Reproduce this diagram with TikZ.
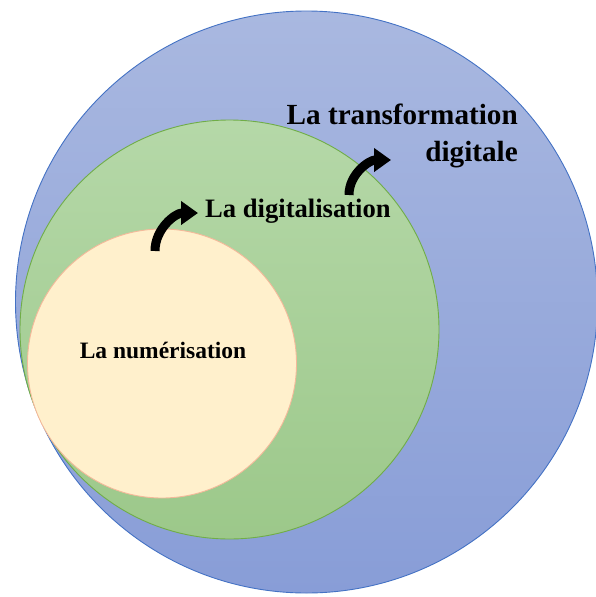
\documentclass[tikz,border=0pt]{standalone}
\usepackage{fontspec}
\setmainfont{Liberation Serif}
\usetikzlibrary{arrows.meta}

\definecolor{blueedge}{HTML}{4472C4}
\definecolor{bluetop}{HTML}{A9B8E0}
\definecolor{bluebot}{HTML}{889DD7}
\definecolor{greenedge}{HTML}{70AD47}
\definecolor{greentop}{HTML}{B5D8A8}
\definecolor{greenbot}{HTML}{9CC88A}
\definecolor{yellowfill}{HTML}{FFF0CC}
\definecolor{yellowedge}{HTML}{F4B99A}

\begin{document}
\begin{tikzpicture}[x=1pt,y=-1pt,
   ring/.style={circle, inner sep=0pt, line width=0.9pt},
   label/.style={inner sep=0pt, font=\bfseries},
   bend arrow/.style={line width=9pt, -{Triangle[length=17pt,width=23pt]}}]
   \useasboundingbox (0,0) rectangle (595,597);

   \node [ring, minimum size=582pt, draw=blueedge, top color=bluetop, bottom color=bluebot] (transfo) at (306.5,302) {};
   \node [ring, minimum size=419pt, draw=greenedge, top color=greentop, bottom color=greenbot] (digital) at (229.5,329.5) {};
   \node [ring, minimum size=269pt, draw=yellowedge, fill=yellowfill] (numer) at (162,363.5) {};

   \node [label, anchor=base, font=\bfseries\fontsize{23.5}{28}\selectfont] (numtext) at (163,358.5) {La numérisation};
   \node [label, anchor=base west, font=\bfseries\fontsize{26.6}{30}\selectfont] (digtext) at (205,217) {La digitalisation};
   \node [label, anchor=east, align=right, font=\bfseries\fontsize{29.2}{36.5}\selectfont] (transtext) at (518,136) {La transformation\\digitale};

   \coordinate (a1) at (155,251);
   \coordinate (b1) at (198,213);
   \coordinate (a2) at (349,195);
   \coordinate (b2) at (391,160);
   \draw [bend arrow] (a1) to [out=90,in=180] (b1);
   \draw [bend arrow] (a2) to [out=90,in=180] (b2);

  \end{tikzpicture}
\end{document}
